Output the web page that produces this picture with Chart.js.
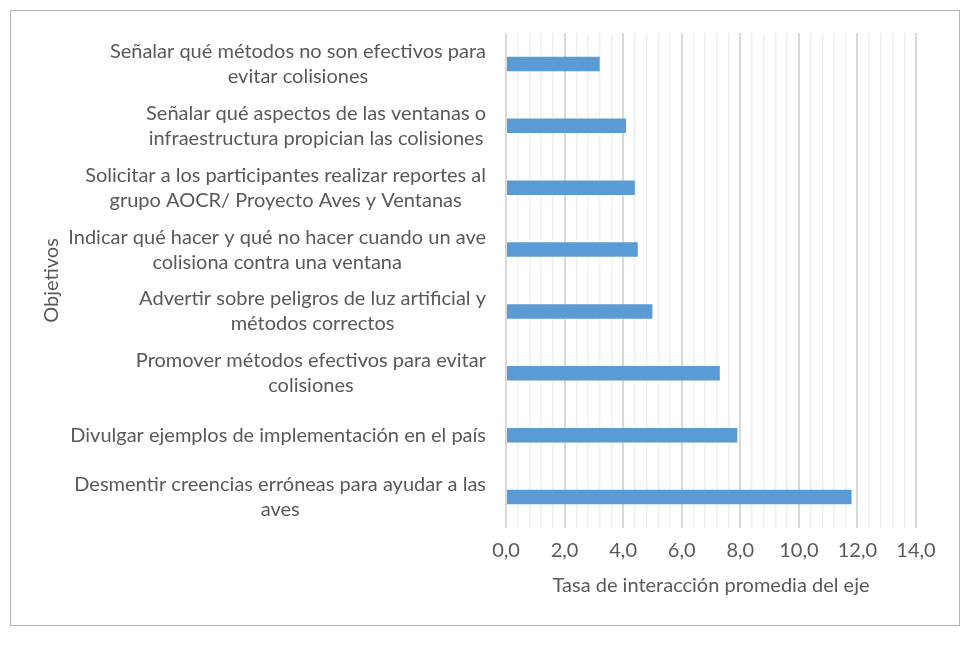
<!DOCTYPE html>
<html>
<head>
<meta charset="utf-8">
<script src="https://cdn.jsdelivr.net/npm/chart.js@4.4.1/dist/chart.umd.min.js"></script>
<style>
  body { margin: 0; background: #fff; }
  canvas { display: block; }
</style>
</head>
<body>
<canvas id="chart" width="970" height="645"></canvas>
<script>
// datos
const categories = [
  ['Señalar qué métodos no son efectivos para', 'evitar colisiones'],
  ['Señalar qué aspectos de las ventanas o', 'infraestructura propician las colisiones'],
  ['Solicitar a los participantes realizar reportes al', 'grupo AOCR/ Proyecto Aves y Ventanas'],
  ['Indicar qué hacer y qué no hacer cuando un ave', 'colisiona contra una ventana'],
  ['Advertir sobre peligros de luz artificial y', 'métodos correctos'],
  ['Promover métodos efectivos para evitar', 'colisiones'],
  ['Divulgar ejemplos de implementación en el país'],
  ['Desmentir creencias erróneas para ayudar a las', 'aves']
];
const values = [3.2, 4.1, 4.4, 4.5, 5.0, 7.3, 7.9, 11.8];
const xTickLabels = ['0,0', '2,0', '4,0', '6,0', '8,0', '10,0', '12,0', '14,0'];

const FONT = 'Lato';
const FSIZE = 20;
const TEXT = '#595959';

const isMajor = v => Math.abs(v / 2 - Math.round(v / 2)) < 1e-6;

// marco gris alrededor del gráfico
const frame = {
  id: 'frame',
  beforeDraw(chart) {
    const c = chart.ctx;
    c.save();
    c.strokeStyle = '#B4B4B4';
    c.lineWidth = 1;
    c.strokeRect(10.5, 10.5, 949, 615);
    c.restore();
  }
};

// etiquetas de categoría: bloque alineado a la derecha, líneas centradas (como Excel)
const catLabels = {
  id: 'catLabels',
  afterDraw(chart) {
    const c = chart.ctx;
    const y = chart.scales.y;
    c.save();
    c.font = FSIZE + 'px ' + FONT;
    c.fillStyle = TEXT;
    c.textAlign = 'center';
    c.textBaseline = 'middle';
    categories.forEach((lines, i) => {
      const cy = y.getPixelForValue(i);
      const w = Math.max(...lines.map(l => c.measureText(l).width));
      const cx = 486 - w / 2;
      const lh = 25;
      lines.forEach((l, j) => {
        c.fillText(l, cx, cy - (lines.length - 1) * lh / 2 + j * lh);
      });
    });
    c.restore();
  }
};

new Chart(document.getElementById('chart'), {
  type: 'bar',
  data: {
    labels: categories,
    datasets: [{
      data: values,
      backgroundColor: '#5B9BD5',
      barPercentage: 0.235,
      categoryPercentage: 1
    }]
  },
  options: {
    indexAxis: 'y',
    responsive: false,
    animation: false,
    layout: { padding: { top: 33, right: 54, bottom: 0, left: 0 } },
    plugins: { legend: { display: false }, tooltip: { enabled: false } },
    scales: {
      x: {
        min: 0,
        max: 14,
        border: { display: false },
        grid: {
          drawTicks: false,
          color: ctx => (ctx.tick && isMajor(ctx.tick.value)) ? '#D9D9D9' : '#EFEFEF',
          lineWidth: ctx => (ctx.tick && isMajor(ctx.tick.value)) ? 2 : 1.5
        },
        ticks: {
          stepSize: 0.4,
          autoSkip: false,
          maxRotation: 0,
          padding: 11,
          color: TEXT,
          font: { family: FONT, size: FSIZE },
          callback: v => isMajor(v) ? xTickLabels[Math.round(v / 2)] : ''
        },
        title: {
          display: true,
          text: 'Tasa de interacción promedia del eje',
          color: TEXT,
          font: { family: FONT, size: FSIZE },
          padding: { top: 4, bottom: 47 }
        },
        afterFit: s => { s.height = 117; }
      },
      y: {
        border: { display: false },
        grid: { display: false },
        ticks: { display: false },
        title: {
          display: true,
          text: 'Objetivos',
          color: TEXT,
          font: { family: FONT, size: FSIZE },
          padding: { top: 40, bottom: 0 }
        },
        afterFit: s => { s.width = 506; }
      }
    }
  },
  plugins: [frame, catLabels]
});
</script>
</body>
</html>
